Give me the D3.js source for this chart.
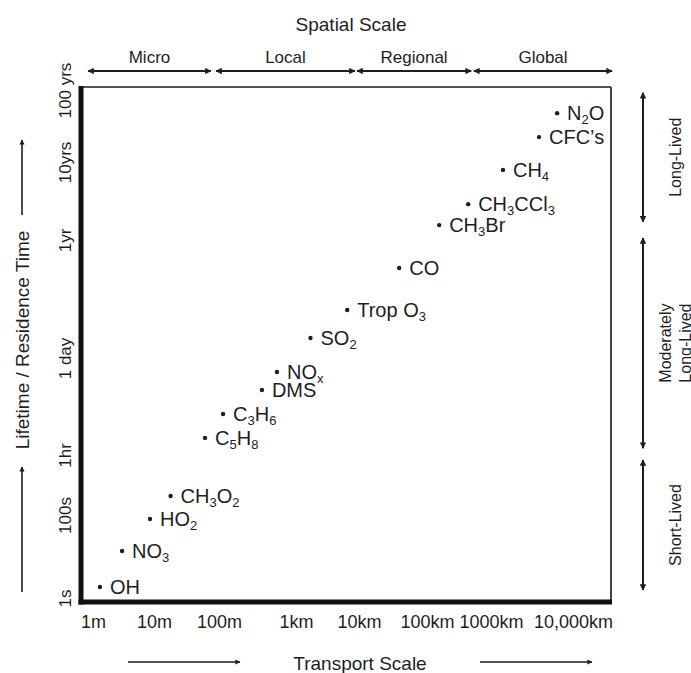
<!DOCTYPE html>
<html>
<head>
<meta charset="utf-8">
<script src="https://cdn.jsdelivr.net/npm/d3@7"></script>
<style>
  body { margin: 0; background: #fff; }
  svg { display: block; font-family: "Liberation Sans", Arial, Helvetica, sans-serif; }
  text { fill: #1e1e1e; }
</style>
</head>
<body>
<svg id="chart" width="691" height="673"></svg>
<script>
// species, transport scale (m) and lifetime (s)
const species = ["N_2O", "CFC\u2019s", "CH_4", "CH_3CCl_3", "CH_3Br", "CO", "Trop O_3", "SO_2",
  "NO_x", "DMS", "C_3H_6", "C_5H_8", "CH_3O_2", "HO_2", "NO_3", "OH"];
const transportM = [6.4e6, 3.85e6, 1.4e6, 4.4e5, 1.55e5, 3.9e4, 6.5e3, 1.7e3,
  566, 361, 113, 61, 18, 8.6, 3.0, 1.3];
const lifetimeS = [1.5e9, 7.0e8, 2.5e8, 9.1e7, 4.9e7, 7.8e6, 9.5e5, 2.35e5,
  5.46e4, 3.03e4, 1.38e4, 6.3e3, 311, 80, 13.6, 1.84];

// tick values / labels
const xTickValues = [1, 10, 100, 1e3, 1e4, 1e5, 1e6, 1e7];
const xTickLabels = ["1m", "10m", "100m", "1km", "10km", "100km", "1000km", "10,000km"];
const yTickValues = [1, 100, 3600, 86400, 3.156e7, 3.156e8, 3.156e9];
const yTickLabels = ["1s", "100s", "1hr", "1 day", "1yr", "10yrs", "100 yrs"];

// spatial scale bands (m) and lifetime bands (s)
const spatialNames = ["Micro", "Local", "Regional", "Global"];
const spatialExtent = [[0.83, 75], [90, 8.6e3], [9.3e3, 4.9e5], [5.4e5, 3.0e7]];
const lifetimeNames = [["Long-Lived"], ["Moderately", "Long-Lived"], ["Short-Lived"]];
const lifetimeExtent = [[2.9e9, 5.4e7], [3.35e7, 4.5e3], [2.67e3, 1.56]];

const margin = { top: 87, left: 81 };
const chartWidth = 530;
const chartHeight = 515;

const svg = d3.select("#chart");

// arrow heads
const defs = svg.append("defs");
defs.append("marker")
  .attr("id", "head")
  .attr("viewBox", "0 0 10 10")
  .attr("refX", 9).attr("refY", 5)
  .attr("markerWidth", 4).attr("markerHeight", 3.2)
  .attr("markerUnits", "strokeWidth")
  .attr("orient", "auto-start-reverse")
  .append("path")
  .attr("d", "M0,0 L10,5 L0,10 Z")
  .attr("fill", "#1e1e1e");

const g = svg.append("g")
  .attr("transform", `translate(${margin.left},${margin.top})`);

// the original figure is schematic: ticks are not evenly spaced, so piecewise log scales
const x = d3.scaleLog()
  .domain(xTickValues)
  .range([12, 73, 138, 215, 278, 346, 410, 492]);

const y = d3.scaleLog()
  .domain(yTickValues)
  .range([511, 428, 368, 271, 153, 75, 3]);

// frame: thin top/right, heavy left/bottom
g.append("line").attr("x1", 0).attr("x2", chartWidth).attr("y1", 0).attr("y2", 0)
  .attr("stroke", "#555").attr("stroke-width", 2);
g.append("line").attr("x1", chartWidth).attr("x2", chartWidth).attr("y1", 0).attr("y2", chartHeight)
  .attr("stroke", "#444").attr("stroke-width", 2);
g.append("line").attr("x1", 0).attr("x2", 0).attr("y1", -1).attr("y2", chartHeight + 2.5)
  .attr("stroke", "#111").attr("stroke-width", 5);
g.append("line").attr("x1", -2.5).attr("x2", chartWidth + 1).attr("y1", chartHeight).attr("y2", chartHeight)
  .attr("stroke", "#111").attr("stroke-width", 5);

// axes
const xAxis = g.append("g")
  .attr("transform", `translate(0,${chartHeight})`)
  .call(d3.axisBottom(x).tickValues(xTickValues)
    .tickFormat((d, i) => xTickLabels[i]).tickSize(0).tickPadding(13));
xAxis.select(".domain").remove();
xAxis.selectAll("text")
  .attr("fill", "#1e1e1e")
  .style("font-size", "18px");

const yAxis = g.append("g")
  .call(d3.axisLeft(y).tickValues(yTickValues)
    .tickFormat((d, i) => yTickLabels[i]).tickSize(0));
yAxis.select(".domain").remove();
yAxis.selectAll("text")
  .attr("transform", "rotate(-90)")
  .attr("x", 0)
  .attr("y", -10)
  .attr("dy", 0)
  .attr("text-anchor", "middle")
  .attr("fill", "#1e1e1e")
  .style("font-size", "17px");

// points
const pts = species.map((s, i) => ({ name: s, dist: transportM[i], life: lifetimeS[i] }));

g.selectAll(".dot")
  .data(pts)
  .join("circle")
  .attr("class", "dot")
  .attr("cx", d => x(d.dist))
  .attr("cy", d => y(d.life))
  .attr("r", 2.2)
  .attr("fill", "#1e1e1e");

const labels = g.selectAll(".lbl")
  .data(pts)
  .join("text")
  .attr("class", "lbl")
  .attr("x", d => x(d.dist) + 10)
  .attr("y", d => y(d.life) + 7)
  .style("font-size", "20px");

// "_" marks the next character as a subscript
labels.each(function (d) {
  const t = d3.select(this);
  const parts = d.name.split(/_(.)/);
  let shifted = false;
  parts.forEach((p, k) => {
    if (!p) return;
    const sub = k % 2 === 1;
    const ts = t.append("tspan").text(p);
    if (sub) {
      ts.attr("dy", 4).style("font-size", "13px");
      shifted = true;
    } else if (shifted) {
      ts.attr("dy", -4);
      shifted = false;
    }
  });
});

// spatial scale bands above the frame
const bandY = -16;
spatialNames.forEach((name, i) => {
  const [a, b] = spatialExtent[i];
  g.append("line")
    .attr("x1", x(a)).attr("x2", x(b))
    .attr("y1", bandY).attr("y2", bandY)
    .attr("stroke", "#1e1e1e").attr("stroke-width", 2)
    .attr("marker-start", "url(#head)")
    .attr("marker-end", "url(#head)");
  g.append("text")
    .attr("x", (x(a) + x(b)) / 2)
    .attr("y", bandY - 8)
    .attr("text-anchor", "middle")
    .style("font-size", "17px")
    .text(name);
});

svg.append("text")
  .attr("x", 351).attr("y", 31)
  .attr("text-anchor", "middle")
  .style("font-size", "19px")
  .text("Spatial Scale");

// lifetime bands on the right
const sideX = chartWidth + 32;
lifetimeNames.forEach((lines, i) => {
  const [a, b] = lifetimeExtent[i];
  g.append("line")
    .attr("x1", sideX).attr("x2", sideX)
    .attr("y1", y(a)).attr("y2", y(b))
    .attr("stroke", "#1e1e1e").attr("stroke-width", 2)
    .attr("marker-start", "url(#head)")
    .attr("marker-end", "url(#head)");
  const cy = (y(a) + y(b)) / 2;
  lines.forEach((ln, k) => {
    const lx = sideX + 38 + (k - (lines.length - 1) / 2) * 20;
    g.append("text")
      .attr("transform", `translate(${lx},${cy}) rotate(-90)`)
      .attr("text-anchor", "middle")
      .style("font-size", "16px")
      .text(ln);
  });
});

// transport scale title with arrows
svg.append("text")
  .attr("x", 360).attr("y", 670)
  .attr("text-anchor", "middle")
  .style("font-size", "19px")
  .text("Transport Scale");
[[128, 240], [480, 592]].forEach(([a, b]) => {
  svg.append("line")
    .attr("x1", a).attr("x2", b).attr("y1", 662).attr("y2", 662)
    .attr("stroke", "#1e1e1e").attr("stroke-width", 1.6)
    .attr("marker-end", "url(#head)");
});

// lifetime title with arrows
svg.append("text")
  .attr("transform", "translate(29,340) rotate(-90)")
  .attr("text-anchor", "middle")
  .style("font-size", "19px")
  .text("Lifetime / Residence Time");
[[215, 140], [592, 467]].forEach(([a, b]) => {
  svg.append("line")
    .attr("x1", 22).attr("x2", 22).attr("y1", a).attr("y2", b)
    .attr("stroke", "#1e1e1e").attr("stroke-width", 1.6)
    .attr("marker-end", "url(#head)");
});
</script>
</body>
</html>
